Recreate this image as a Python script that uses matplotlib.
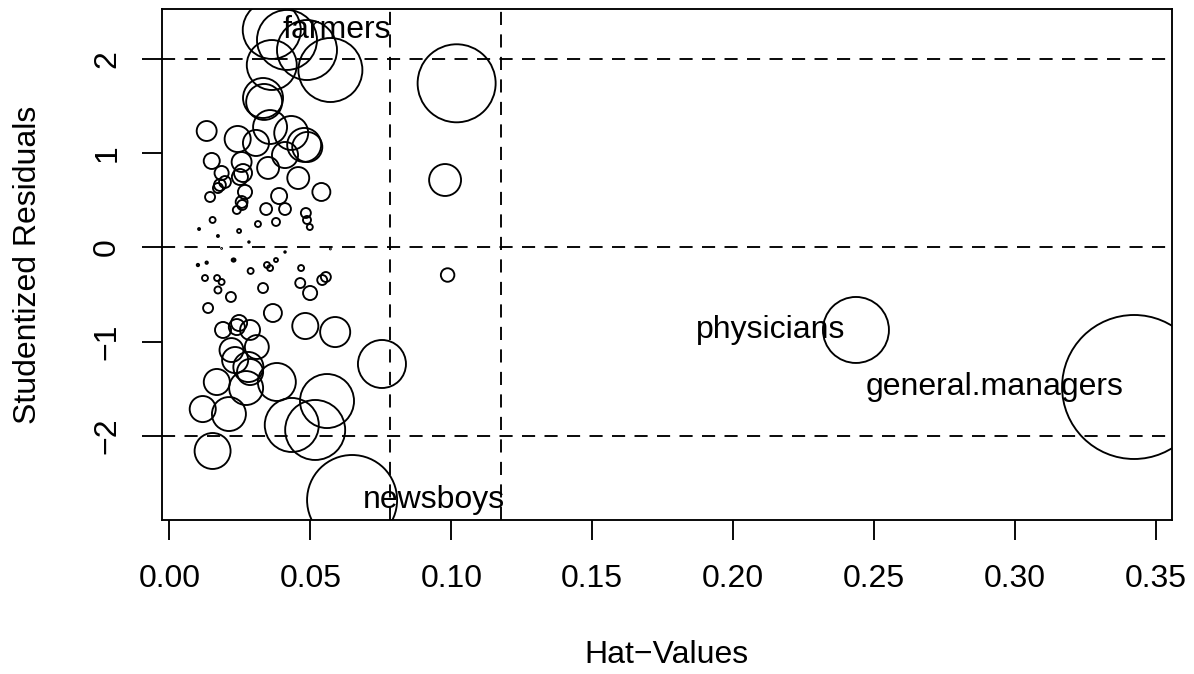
import numpy as np
import matplotlib
matplotlib.use("Agg")
import matplotlib.pyplot as plt

plt.rcParams["font.family"] = ["Liberation Sans", "DejaVu Sans"]

# influence measures: hat-values, studentized residuals, Cook's distances
# first four are the labelled occupations
names = ["general.managers", "physicians", "newsboys", "farmers"]
label_side = ["left", "left", "right", "right"]

hat = [0.3423, 0.2436, 0.0648, 0.0363,
       0.0417, 0.0488, 0.0363, 0.0571, 0.0332, 0.0336, 0.0357, 0.0432, 0.0478,
       0.0489, 0.0132, 0.0242, 0.0307, 0.0410, 0.0150, 0.0256, 0.0350, 0.0261,
       0.0185, 0.0250, 0.0457, 0.0179, 0.0197, 0.0172, 0.0144, 0.0268, 0.0539,
       0.0389, 0.0256, 0.0258, 0.0239, 0.0343, 0.0410, 0.0484, 0.0488, 0.0498,
       0.0153, 0.0378, 0.0314, 0.0247, 0.0105, 0.0172, 0.0282,
       0.0185, 0.0410, 0.0571, 0.0101, 0.0132, 0.0226, 0.0229, 0.0378, 0.0346,
       0.0357, 0.0288, 0.0467, 0.0126, 0.0169, 0.0185, 0.0172, 0.0218, 0.0332,
       0.0464, 0.0542, 0.0555, 0.0499, 0.0137, 0.0367, 0.0190, 0.0247, 0.0239,
       0.0286, 0.0482, 0.0588, 0.0220, 0.0310, 0.0233, 0.0280, 0.0286, 0.0168,
       0.0272, 0.0381, 0.0559, 0.0118, 0.0211, 0.0434, 0.0517, 0.0153, 0.0754,
       0.1019, 0.0978, 0.0987]

rstud = [-1.480, -0.875, -2.679, 2.308,
         2.202, 2.095, 1.936, 1.883, 1.586, 1.544, 1.278, 1.215, 1.088,
         1.066, 1.236, 1.151, 1.109, 0.981, 0.918, 0.907, 0.844, 0.790,
         0.790, 0.748, 0.737, 0.663, 0.695, 0.631, 0.536, 0.589, 0.589,
         0.546, 0.483, 0.451, 0.398, 0.408, 0.408, 0.366, 0.292, 0.217,
         0.292, 0.271, 0.249, 0.175, 0.196, 0.122, 0.058,
         -0.010, -0.048, -0.016, -0.186, -0.161, -0.133, -0.133, -0.133, -0.186,
         -0.218, -0.249, -0.218, -0.324, -0.324, -0.366, -0.451, -0.525, -0.430,
         -0.377, -0.345, -0.313, -0.483, -0.642, -0.695, -0.875, -0.801, -0.844,
         -0.875, -0.833, -0.897, -1.088, -1.056, -1.194, -1.268, -1.321, -1.427,
         -1.491, -1.427, -1.629, -1.714, -1.767, -1.883, -1.936, -2.159, -1.236,
         1.742, 0.716, -0.292]

cook = [0.2500, 0.0525, 0.0977, 0.0406,
        0.0434, 0.0434, 0.0301, 0.0494, 0.0193, 0.0156, 0.0139, 0.0139, 0.0139,
        0.0109, 0.0048, 0.0082, 0.0082, 0.0082, 0.0031, 0.0048, 0.0058, 0.0039,
        0.0024, 0.0031, 0.0058, 0.0017, 0.0017, 0.0012, 0.0012, 0.0024, 0.0039,
        0.0031, 0.0017, 0.0012, 0.00077, 0.0017, 0.0017, 0.0012, 0.00077, 0.00043,
        0.00043, 0.00077, 0.00043, 0.00019, 0.00005, 0.00005, 0.00003,
        0.00001, 0.00003, 0.00001, 0.00007, 0.00007, 0.00011, 0.00011, 0.00019, 0.00043,
        0.00043, 0.00043, 0.00043, 0.00043, 0.00043, 0.00043, 0.00059, 0.0012, 0.0012,
        0.0012, 0.0012, 0.0012, 0.0024, 0.0012, 0.0039, 0.0031, 0.0031, 0.0031,
        0.0048, 0.0082, 0.0109, 0.0069, 0.0069, 0.0082, 0.0109, 0.0082, 0.0082,
        0.0139, 0.0174, 0.0352, 0.0082, 0.0139, 0.0352, 0.0434, 0.0156, 0.0278,
        0.0734, 0.0123, 0.0022]

n_params = 4
n_obs = 102
resid_cutoffs = [-2, 0, 2]
hat_cutoffs = [2 * n_params / n_obs, 3 * n_params / n_obs]

hat = np.array(hat)
rstud = np.array(rstud)
cook = np.array(cook)

fs = 23
fig = plt.figure(figsize=(11.94, 6.74), dpi=100)
ax = fig.add_axes([0.1354, 0.2285, 0.8459, 0.7577])

lw = 1.35
dash = (0, (7.0, 5.0))
for h in resid_cutoffs:
    ax.axhline(h, color="black", lw=lw, linestyle=dash, zorder=1)
for v in hat_cutoffs:
    ax.axvline(v, color="black", lw=lw, linestyle=dash, zorder=1)

# circle area proportional to Cook's distance
max_radius_pt = 72 * 0.72
radius = max_radius_pt * np.sqrt(cook / cook.max())
ax.scatter(hat, rstud, s=(2 * radius) ** 2, facecolors="none",
           edgecolors="black", linewidths=lw, zorder=2)

for i, name in enumerate(names):
    if label_side[i] == "right":
        ax.annotate(name, (hat[i], rstud[i]), xytext=(7.5, -5.5),
                    textcoords="offset points", ha="left", va="baseline",
                    fontsize=fs)
    else:
        ax.annotate(name, (hat[i], rstud[i]), xytext=(-7.5, -5.5),
                    textcoords="offset points", ha="right", va="baseline",
                    fontsize=fs)

ax.set_xlim(-0.00277, 0.35564)
ax.set_ylim(-2.891, 2.527)
ax.set_xticks(np.arange(0, 0.36, 0.05))
ax.set_xticklabels(["%.2f" % t for t in np.arange(0, 0.36, 0.05)])
ax.set_yticks([-2, -1, 0, 1, 2])
ax.set_yticklabels(["\u22122", "\u22121", "0", "1", "2"], rotation=90,
                   va="center")
ax.tick_params(axis="both", direction="out", length=14.4, width=lw,
               labelsize=fs)
ax.tick_params(axis="x", pad=17)
ax.tick_params(axis="y", pad=14)
for sp in ax.spines.values():
    sp.set_linewidth(lw)

fig.text(666.7 / 1194, 1 - 655 / 674, "Hat\u2212Values", ha="center",
         va="center", fontsize=fs)
fig.text(28 / 1194, 1 - 264.6 / 674, "Studentized Residuals", ha="center",
         va="center", rotation=90, fontsize=fs)

fig.savefig("out.png", dpi=100)
